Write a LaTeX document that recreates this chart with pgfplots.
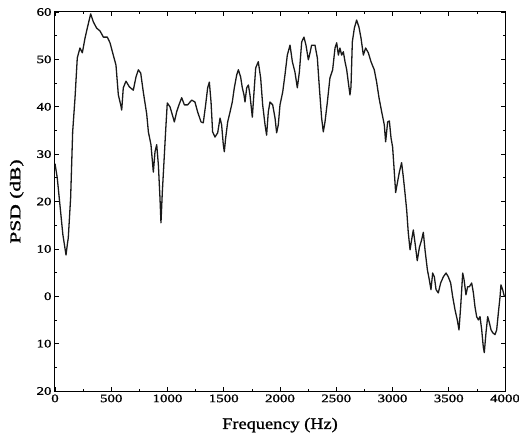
\documentclass[border=0pt]{standalone}
\usepackage{pgfplots}
\pgfplotsset{compat=1.18}
\usepackage{fontspec}
\setmainfont{Liberation Serif}
\newfontfamily\tickfont[FakeStretch=1.3,FakeBold=1.2]{Liberation Serif}
\newfontfamily\labfont[FakeStretch=1.15,FakeBold=1.2]{Liberation Serif}
\pgfplotstableread{
f psd
0 28
20 25
45 19
70 13
98 8.7
110 11
118 12.3
139 20.8
157 34.7
178 41.9
198 50.3
222 52.4
243 51.4
267 54.5
287 56.6
317 59.6
341 57.9
370 56.6
400 56
430 54.7
465 54.7
489 53.5
518 50.9
542 48.8
563 42.5
584 40.4
593 39.3
607 44
631 45.4
661 44.2
696 43.5
720 46.3
741 47.8
762 47.1
785 43.1
815 38.5
830 34.7
853 32
874 26.2
889 30.5
904 32
919 27.7
933 20.8
942 15.5
954 22
972 29.8
984 35.1
998 40.8
1022 40
1043 38.3
1061 36.8
1081 38.9
1102 40.4
1126 41.9
1150 40.4
1179 40.4
1215 41.4
1244 41
1268 38.9
1298 36.8
1318 36.6
1339 40.4
1357 44
1372 45.2
1387 41
1401 34.7
1422 33.6
1446 34.5
1467 37.6
1481 36.2
1496 32
1505 30.5
1517 33.4
1535 36.8
1556 38.9
1576 41
1594 44
1615 46.7
1630 47.8
1650 46.3
1665 44
1680 42.5
1689 41
1704 44
1719 44.6
1733 42.5
1754 37.8
1769 43.1
1784 48.2
1807 49.5
1828 46.1
1846 40.4
1867 36.2
1881 34
1896 38.9
1911 41
1935 40.4
1956 37.6
1970 34.5
1985 36.2
2000 40.4
2024 43.1
2044 46.7
2065 50.9
2089 53
2110 49.5
2133 47.3
2154 44
2172 47.3
2193 53.7
2213 54.7
2231 53
2252 49.9
2267 51.4
2281 53
2311 53
2332 50.3
2350 44
2370 37.6
2385 34.7
2400 36.8
2421 41
2444 46.1
2468 47.8
2489 52.4
2504 53.5
2519 50.9
2533 52.4
2548 50.9
2563 51.6
2578 49.5
2593 47.8
2607 45.2
2622 42.5
2631 44.2
2643 53.7
2661 56.6
2681 58.3
2702 56.8
2720 54.5
2741 50.9
2761 52.4
2785 51.4
2809 49.5
2838 47.8
2859 45.2
2880 41.9
2904 38.9
2927 36.2
2939 32.6
2957 36.8
2972 37
2987 33.4
3001 31.5
3013 27.3
3028 21.9
3043 23.9
3061 26.2
3081 28.2
3096 25.2
3111 21.8
3126 18.2
3140 13.5
3156 9.8
3170 11.9
3185 14
3200 11.3
3220 7.5
3239 10.3
3259 11.9
3274 13.5
3289 9.8
3310 5.6
3327 3.5
3342 1.4
3357 4.9
3372 4.1
3387 1.4
3407 0.7
3428 2.8
3452 4.1
3476 4.9
3496 4.1
3517 2.8
3535 -0.1
3556 -2.9
3576 -5
3591 -7.1
3606 -2.2
3624 4.9
3636 3.5
3653 0.3
3668 2
3683 2
3704 2.8
3719 0.7
3733 -2.2
3748 -4.3
3763 -5
3778 -4.3
3793 -7.1
3807 -10.7
3816 -11.9
3831 -7.7
3846 -4.3
3861 -5.6
3876 -7.1
3891 -7.7
3911 -8.1
3926 -7.1
3941 -3.5
3956 -0.1
3964 2.4
3979 1.4
3995 -0.1
}\psdtable
\begin{document}
\begin{tikzpicture}
\begin{axis}[
  scale only axis,
  width=450bp, height=379bp,
  xmin=0, xmax=4000, ymin=-20, ymax=60,
  xtick={0,500,...,4000},
  ytick={-20,-10,...,60},
  yticklabels={20,10,0,10,20,30,40,50,60},
  minor x tick num=1,
  minor y tick num=1,
  tick align=inside,
  major tick length=4bp,
  minor tick length=2.5bp,
  tick style={black, line width=0.7bp},
  axis line style={black, line width=1bp},
  /pgf/number format/assume math mode=true,
  /pgf/number format/set thousands separator={},
  ticklabel style={font=\tickfont\fontsize{11.5}{11.5}\selectfont},
  xlabel={Frequency (Hz)},
  ylabel={\scalebox{1.25}[1]{PSD (dB)}},
  xlabel style={font=\labfont\fontsize{16}{16}\selectfont, at={(axis description cs:0.5,-0.09)}, anchor=center},
  ylabel style={font=\labfont\fontsize{15}{15}\selectfont, at={(axis description cs:-0.085,0.5)}, anchor=center, rotate=0},
  clip=true,
]
\addplot[black!90, line width=1.3bp, line join=round] table[x=f, y=psd] {\psdtable};
\end{axis}
\pgfresetboundingbox
\useasboundingbox ([shift={(-55bp,-46bp)}]current axis.south west) rectangle ([shift={(14bp,12bp)}]current axis.north east);
\end{tikzpicture}
\end{document}
